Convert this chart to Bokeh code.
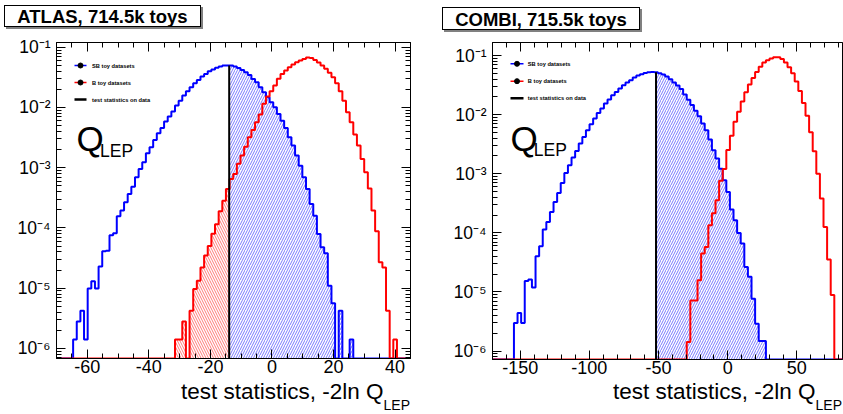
import numpy as np
from bokeh.plotting import figure
from bokeh.models import (Range1d, LinearAxis, LogAxis, FixedTicker, Label, Div,
                          CustomJSTickFormatter)
from bokeh.layouts import row, column
from bokeh.embed import file_html
from bokeh.resources import INLINE

FONT = "Liberation Sans"

# ---------------- shared texts / ticks ----------------
legend_labels = ["SB toy datasets", "B toy datasets", "test statistics on data"]
x_title = "test statistics, -2ln Q"
x_title_sub = "LEP"
q_main = "Q"
q_sub = "LEP"
y_major = [1e-6, 1e-5, 1e-4, 1e-3, 1e-2, 1e-1]
y_major_labels = ["10\u207b\u2076", "10\u207b\u2075", "10\u207b\u2074",
                  "10\u207b\u00b3", "10\u207b\u00b2", "10\u207b\u00b9"]
y_minor = [m * 10.0 ** e for e in range(-7, 0) for m in range(2, 10)]

# ---------------- ATLAS panel data ----------------
atlas_title = "ATLAS, 714.5k toys"
atlas_bin_start = -64.6
atlas_bin_width = 1.182
atlas_sb = [
    1.4e-6, 2.8e-6, 4.2e-6, 1.4e-6, 9.9e-6, 1.3e-5, 9.9e-6, 2.3e-5, 4.1e-5, 4.2e-5,
    7.6e-5, 8.2e-5, 1.56e-4, 1.94e-4, 2.66e-4, 3.67e-4, 4.85e-4, 6.93e-4, 9.55e-4, 1.23e-3,
    1.74e-3, 2.19e-3, 2.90e-3, 3.73e-3, 4.57e-3, 5.83e-3, 7.06e-3, 8.55e-3, 1.076e-2, 1.30e-2,
    1.58e-2, 1.86e-2, 2.17e-2, 2.52e-2, 2.87e-2, 3.26e-2, 3.61e-2, 3.99e-2, 4.27e-2, 4.55e-2,
    4.79e-2, 4.97e-2, 5.00e-2, 4.97e-2, 4.78e-2, 4.54e-2, 4.21e-2, 3.85e-2, 3.48e-2, 2.98e-2,
    2.62e-2, 2.17e-2, 1.79e-2, 1.48e-2, 1.22e-2, 1.01e-2, 7.8e-3, 6.05e-3, 4.58e-3, 3.21e-3,
    2.33e-3, 1.59e-3, 1.08e-3, 6.93e-4, 4.44e-4, 2.5e-4, 1.6e-4, 7.9e-5, 4.8e-5, 3.8e-5,
    1.1e-5, 5.6e-6, 0, 4.2e-6, 0, 0, 1.4e-6, 0, 0, 0,
    0, 0, 0, 0, 0, 0, 0, 0, 0, 0,
]
atlas_b = [
    0, 0, 0, 0, 0, 0, 0, 0, 0, 0,
    0, 0, 0, 0, 0, 0, 0, 0, 0, 0,
    0, 0, 0, 0, 0, 0, 0, 0, 1.4e-6, 1.4e-6,
    2.8e-6, 0, 4.2e-6, 9.7e-6, 1.33e-5, 2.2e-5, 3.5e-5, 5.0e-5, 8.0e-5, 1.15e-4,
    1.9e-4, 2.84e-4, 4.45e-4, 6.5e-4, 7.9e-4, 1.16e-3, 1.59e-3, 2.24e-3, 3.2e-3, 4.25e-3,
    5.68e-3, 7.62e-3, 1.15e-2, 1.52e-2, 1.86e-2, 2.31e-2, 2.99e-2, 3.61e-2, 4.10e-2, 4.66e-2,
    5.16e-2, 5.64e-2, 6.01e-2, 6.41e-2, 6.74e-2, 6.65e-2, 6.16e-2, 5.57e-2, 4.97e-2, 4.38e-2,
    3.76e-2, 3.18e-2, 2.52e-2, 1.86e-2, 1.30e-2, 8.3e-3, 5.68e-3, 3.55e-3, 2.33e-3, 1.40e-3,
    8.4e-4, 4.5e-4, 1.94e-4, 8.8e-5, 2.7e-5, 2.2e-5, 4.2e-6, 0, 1.4e-6, 0,
]
atlas_data = -13.9
atlas_x_range = (-70, 45)
atlas_y_range = (6.8e-7, 0.12)
atlas_x_major = [-60, -40, -20, 0, 20, 40]
atlas_x_major_labels = ["-60", "-40", "-20", "0", "20", "40"]
atlas_x_minor = list(range(-70, 46, 5))

# ---------------- COMBI panel data ----------------
combi_title = "COMBI, 715.5k toys"
combi_bin_start = -154.5
combi_bin_width = 2.602
combi_sb = [
    2.99e-6, 4.42e-6, 2.99e-6, 1.53e-5, 1.62e-5, 1.19e-5, 4.02e-5, 5.93e-5, 1.14e-4, 1.53e-4,
    2.26e-4, 3.33e-4, 4.73e-4, 6.98e-4, 1.03e-3, 1.39e-3, 1.88e-3, 2.43e-3, 3.24e-3, 4.2e-3,
    5.45e-3, 6.88e-3, 8.59e-3, 1.07e-2, 1.27e-2, 1.54e-2, 1.80e-2, 2.13e-2, 2.42e-2, 2.77e-2,
    3.14e-2, 3.49e-2, 3.82e-2, 4.25e-2, 4.59e-2, 4.83e-2, 5.08e-2, 5.21e-2, 5.28e-2, 5.2e-2,
    5.0e-2, 4.75e-2, 4.4e-2, 3.95e-2, 3.5e-2, 3.1e-2, 2.7e-2, 2.2e-2, 1.78e-2, 1.45e-2,
    1.16e-2, 9.4e-3, 7.07e-3, 5.44e-3, 3.79e-3, 2.5e-3, 1.81e-3, 1.22e-3, 7.76e-4, 4.92e-4,
    2.48e-4, 1.63e-4, 9.96e-5, 6.6e-5, 2.65e-5, 1.8e-5, 7.7e-6, 2.9e-6, 1.48e-6, 1.48e-6,
    0, 0, 0, 0, 0, 0, 0, 0, 0, 0,
    0, 0, 0, 0, 0, 0, 0, 0, 0,
]
combi_b = [
    0, 0, 0, 0, 0, 0, 0, 0, 0, 0,
    0, 0, 0, 0, 0, 0, 0, 0, 0, 0,
    0, 0, 0, 0, 0, 0, 0, 0, 0, 0,
    0, 0, 0, 0, 0, 0, 0, 0, 0, 0,
    0, 0, 0, 0, 0, 0, 0, 0, 1.43e-6, 7.2e-6,
    7.2e-6, 1.58e-5, 4.47e-5, 5.75e-5, 1.35e-4, 2.14e-4, 3.55e-4, 7.6e-4, 1.20e-3, 2.51e-3,
    4.37e-3, 7.59e-3, 1.12e-2, 1.66e-2, 2.40e-2, 3.24e-2, 4.17e-2, 5.25e-2, 6.46e-2, 7.59e-2,
    8.32e-2, 8.91e-2, 9.33e-2, 9.33e-2, 8.71e-2, 7.59e-2, 6.31e-2, 5.01e-2, 3.63e-2, 2.51e-2,
    1.58e-2, 9.55e-3, 5.01e-3, 2.40e-3, 1.0e-3, 3.8e-4, 1.26e-4, 3.55e-5, 8.9e-6,
]
combi_data = -51.8
combi_x_range = (-170, 83)
combi_y_range = (7.2e-7, 0.166)
combi_x_major = [-150, -100, -50, 0, 50]
combi_x_major_labels = ["-150", "-100", "-50", "0", "50"]
combi_x_minor = list(range(-170, 84, 10))

SB_COLOR = "#0000ff"
B_COLOR = "#ff0000"
TITLE_H = 35      # height of the title strip above each figure
XLAB_H = 32       # height of the x-title strip below each figure
PAGE_H = 414


def blank_fmt():
    return CustomJSTickFormatter(code="return ''")


def make_panel(bin_start, bin_width, sb, bkg, data_x, x_range, y_range,
               x_major, x_major_labels, x_minor, g):
    W = g["width"]
    H = PAGE_H - TITLE_H - XLAB_H
    fl, fr, ft, fb = g["frame"]          # x in canvas px, y in page px
    ft_l, fb_l = ft - TITLE_H, fb - TITLE_H
    fw, fh = fr - fl, fb - ft
    lo, hi = np.log10(y_range[0]), np.log10(y_range[1])

    def X(px):
        return x_range[0] + (px - fl) * (x_range[1] - x_range[0]) / fw

    def Y(py):
        return 10 ** (hi - (py - ft) * (hi - lo) / fh)

    p = figure(width=W, height=H, x_range=Range1d(*x_range), y_range=Range1d(*y_range),
               y_axis_type="log", output_backend="svg", toolbar_location=None,
               min_border_left=fl, min_border_right=W - fr,
               min_border_top=ft_l, min_border_bottom=H - fb_l)
    p.xgrid.visible = False
    p.ygrid.visible = False
    p.outline_line_color = "black"
    p.outline_line_width = 1
    p.background_fill_color = "white"
    p.border_fill_color = "white"

    xt = FixedTicker(ticks=x_major, minor_ticks=x_minor)
    yt = FixedTicker(ticks=y_major, minor_ticks=y_minor)
    xa = p.below[0]
    ya = p.left[0]
    xa.ticker = xt
    ya.ticker = yt
    xa.formatter = CustomJSTickFormatter(
        args=dict(tick_vals=x_major, tick_labels=x_major_labels),
        code="const i = tick_vals.indexOf(tick); return i >= 0 ? tick_labels[i] : '';")
    ya.formatter = CustomJSTickFormatter(
        args=dict(tick_vals=y_major, tick_labels=y_major_labels),
        code=("for (let i = 0; i < tick_vals.length; i++) {"
              " if (Math.abs(Math.log10(tick_vals[i]) - Math.log10(tick)) < 1e-6)"
              " return tick_labels[i]; }"
              " return '';"))
    top = LinearAxis(ticker=xt, formatter=blank_fmt(), major_label_text_font_size="0px")
    p.add_layout(top, "above")
    axes = [xa, ya, top]
    if g["right_axis"]:
        ra = LogAxis(ticker=yt, formatter=blank_fmt(), major_label_text_font_size="0px")
        p.add_layout(ra, "right")
        axes.append(ra)
    for ax in axes:
        ax.major_tick_in = 9
        ax.major_tick_out = 0
        ax.minor_tick_in = 5
        ax.minor_tick_out = 0
        ax.major_tick_line_color = "black"
        ax.minor_tick_line_color = "black"
        ax.axis_line_color = "black"
        ax.major_label_standoff = 0
    for ax in (xa, ya):
        ax.major_label_text_font = FONT
        ax.major_label_text_color = "black"
    xa.major_label_text_font_size = "18px"
    xa.major_label_standoff = 1
    ya.major_label_text_font_size = "17.5px"
    ya.major_label_standoff = 6

    edges = bin_start + bin_width * np.arange(len(sb) + 1)
    floor = y_range[0]

    def outline(vals):
        xs, ys = [x_range[0], edges[0]], [floor, floor]
        for i, v in enumerate(vals):
            v = max(v, floor)
            xs += [edges[i], edges[i + 1]]
            ys += [v, v]
        xs += [edges[-1], x_range[1]]
        ys += [floor, floor]
        return xs, ys

    def hatched(vals, side):
        xs, ys = [], []
        for i, v in enumerate(vals):
            a, b = edges[i], edges[i + 1]
            if side == "right":
                a = max(a, data_x)
            else:
                b = min(b, data_x)
            if b <= a:
                continue
            v = max(v, floor)
            xs += [a, b]
            ys += [v, v]
        return xs, ys

    hx, hy = hatched(bkg, "left")
    if hx:
        p.varea(x=hx, y1=[floor] * len(hx), y2=hy, fill_alpha=0,
                hatch_pattern="\\", hatch_color="#ff7a7a", hatch_scale=5, hatch_weight=1)
    hx, hy = hatched(sb, "right")
    p.varea(x=hx, y1=[floor] * len(hx), y2=hy, fill_alpha=0,
            hatch_pattern="/", hatch_color="#7a7aff", hatch_scale=5, hatch_weight=1)

    sx, sy = outline(sb)
    p.line(sx, sy, line_color=SB_COLOR, line_width=2)
    bx, by = outline(bkg)
    p.line(bx, by, line_color=B_COLOR, line_width=2)

    k = int(np.floor((data_x - bin_start) / bin_width))
    p.segment(x0=[data_x], y0=[floor], x1=[data_x], y1=[sb[k]],
              line_color="black", line_width=2)

    # legend (ROOT style, drawn manually inside the frame)
    lx0, lx1 = g["legend_line"]
    colors = [SB_COLOR, B_COLOR, "black"]
    for i, (lab, col) in enumerate(zip(legend_labels, colors)):
        yy = Y(g["legend_rows"][i])
        p.segment(x0=[X(lx0)], y0=[yy], x1=[X(lx1)], y1=[yy], line_color=col,
                  line_width=1.5 if i < 2 else 2.5)
        if i < 2:
            p.scatter(x=[X((lx0 + lx1) / 2)], y=[yy], size=5, color="black")
        p.add_layout(Label(x=X(g["legend_text"]), y=yy, text=lab, text_font=FONT,
                           text_font_size="5.7px", text_font_style="bold",
                           text_baseline="middle", text_align="left", text_color="black"))

    # Q_LEP label (positions are the vertical centres of the capitals)
    qx, qy = g["q"]
    p.add_layout(Label(x=X(qx), y=Y(qy), text=q_main, text_font=FONT, text_font_size="35px",
                       text_baseline="middle", text_align="left", text_color="black"))
    sx_, sy_ = g["q_sub"]
    p.add_layout(Label(x=X(sx_), y=Y(sy_), text=q_sub, text_font=FONT, text_font_size="17.5px",
                       text_baseline="middle", text_align="left", text_color="black"))
    return p


def title_div(text, width, box):
    x0, x1, y0, y1 = box
    html = (f'<div style="padding:{y0}px 0 0 {x0}px;">'
            f'<div style="width:{x1 - x0 - 2}px;height:{y1 - y0 - 2}px;border:1px solid #000;'
            f'box-shadow:2px 2px 0 #808080;background:#fff;font-family:\'{FONT}\';'
            f'font-weight:bold;font-size:18.5px;line-height:{y1 - y0 - 2}px;text-align:center;'
            f'color:#000;white-space:nowrap;">{text}</div></div>')
    return Div(text=html, width=width, height=TITLE_H, margin=0)


def xtitle_div(width, x_end):
    html = (f'<div style="width:{x_end}px;text-align:right;white-space:nowrap;'
            f'font-family:\'{FONT}\';font-size:22.5px;line-height:20px;color:#000;">'
            f'{x_title}<span style="font-size:14px;line-height:0;position:relative;top:11px;">'
            f'{x_title_sub}</span></div>')
    return Div(text=html, width=width, height=XLAB_H, margin=0)


atlas_geom = dict(width=421, frame=(56, 410, 42, 358), right_axis=True,
                  legend_line=(74, 86), legend_rows=[65, 82, 99], legend_text=91.5,
                  q=(76, 138), q_sub=(99.5, 150.5))
combi_geom = dict(width=422, frame=(71, 421, 42, 359), right_axis=False,
                  legend_line=(89, 102), legend_rows=[63.3, 80.7, 97.7], legend_text=106.3,
                  q=(89, 138), q_sub=(112.3, 149.5))

p1 = make_panel(atlas_bin_start, atlas_bin_width, atlas_sb, atlas_b, atlas_data,
                atlas_x_range, atlas_y_range, atlas_x_major, atlas_x_major_labels,
                atlas_x_minor, atlas_geom)
p2 = make_panel(combi_bin_start, combi_bin_width, combi_sb, combi_b, combi_data,
                combi_x_range, combi_y_range, combi_x_major, combi_x_major_labels,
                combi_x_minor, combi_geom)

left = column(title_div(atlas_title, 421, (4, 203, 5, 29)), p1, xtitle_div(421, 410),
              spacing=0)
right = column(title_div(combi_title, 422, (21, 221, 7, 32)), p2, xtitle_div(422, 421),
               spacing=0)
layout = row(left, right, spacing=0)
open("out.html", "w").write(file_html(layout, INLINE))
